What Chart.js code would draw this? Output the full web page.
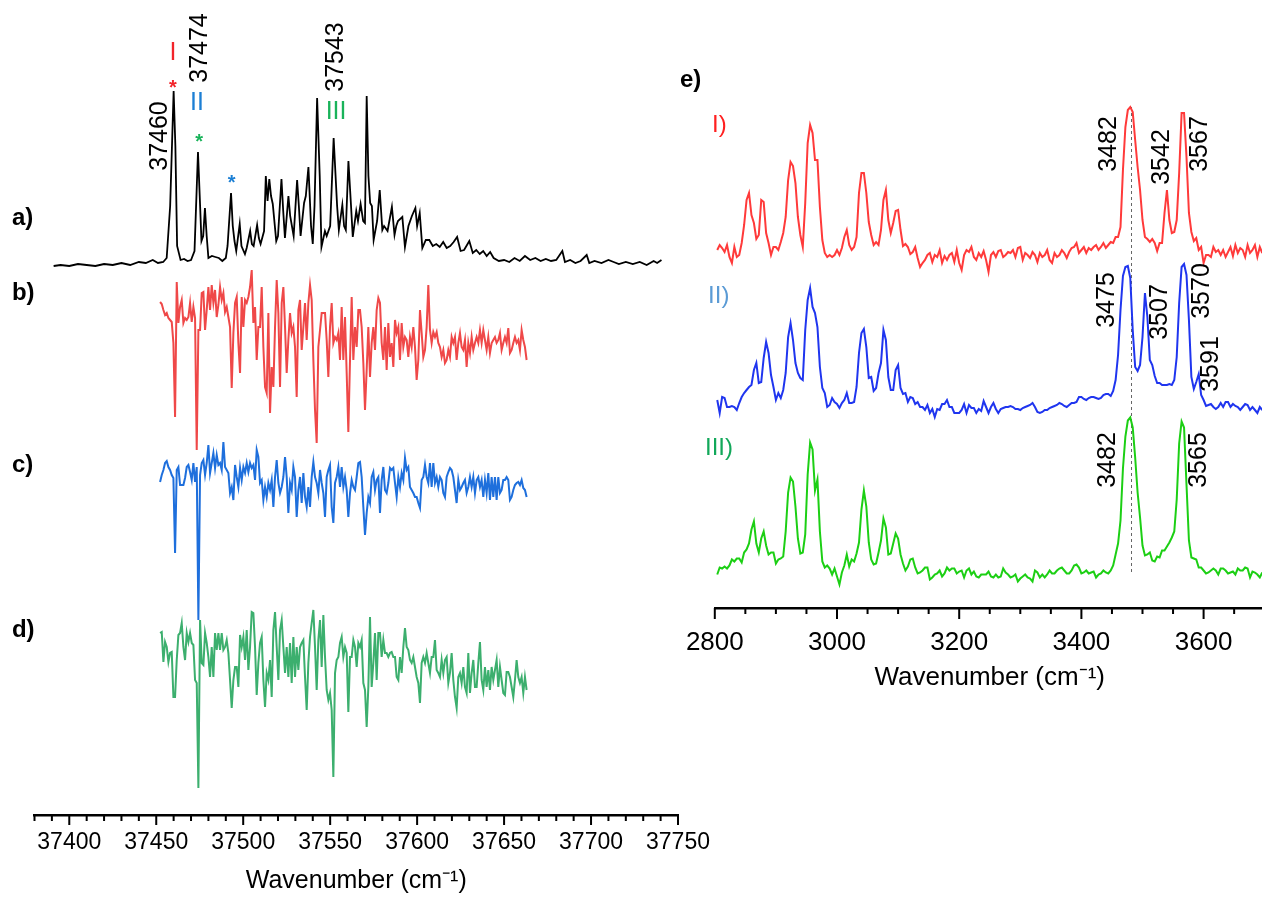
<!DOCTYPE html>
<html>
<head>
<meta charset="utf-8">
<script src="https://cdn.jsdelivr.net/npm/chart.js@4.4.1/dist/chart.umd.min.js"></script>
<style>
html, body { margin: 0; padding: 0; background: #fff; overflow: hidden; width: 1262px; height: 897px; }
#uvChart { position: absolute; left: 0; top: 0; }
#irChart { position: absolute; left: 660px; top: 0; }
</style>
</head>
<body>
<canvas id="uvChart" width="720" height="900"></canvas>
<canvas id="irChart" width="640" height="697"></canvas>
<script>
// a) electronic spectrum (black)
const uvWavenumber = [37391, 37395, 37400, 37405, 37410, 37415, 37420, 37425, 37430, 37435, 37440, 37444, 37448, 37451, 37454, 37456, 37458, 37460, 37461, 37462,
  37464, 37466, 37468, 37470, 37472, 37474, 37475, 37476, 37477, 37478, 37479, 37480, 37482, 37484, 37486, 37488, 37490, 37491, 37493, 37494,
  37495, 37496, 37498, 37499, 37501, 37502, 37504, 37505, 37506, 37508, 37509, 37510, 37512, 37513, 37514, 37515, 37516, 37517, 37519, 37520,
  37522, 37523, 37524, 37526, 37527, 37529, 37531, 37532, 37533, 37535, 37536, 37537.5, 37539, 37540, 37541, 37542.5, 37544, 37545, 37547, 37548,
  37550, 37552, 37554, 37555, 37557, 37558, 37559, 37560.5, 37562, 37563, 37565, 37566, 37567.5, 37569, 37570, 37571, 37572, 37573, 37574, 37575,
  37577, 37578.5, 37580, 37581, 37583, 37585.5, 37587, 37588, 37589, 37591.5, 37593, 37595, 37597, 37599, 37600, 37601.5, 37603, 37605, 37607, 37609,
  37611, 37613, 37615, 37617, 37619, 37621, 37623, 37625, 37627, 37630, 37632, 37634, 37636, 37638, 37640, 37642, 37644, 37647, 37650, 37653,
  37656, 37659, 37662, 37665, 37668, 37671, 37674, 37677, 37680, 37683.5, 37685, 37688, 37691, 37694, 37697.5, 37699, 37702, 37706, 37710, 37713,
  37716, 37720, 37724, 37728, 37732, 37736, 37738, 37740.5];
const uvSignal = [0, 1, 0, 2, 1, 0, 2, 1, 3, 1, 4, 3, 6, 3, 4, 8, 60, 175, 120, 20,
  6, 7, 5, 6, 15, 114, 70, 25, 30, 58, 30, 8, 10, 9, 8, 5, 8, 20, 73, 40,
  25, 15, 42, 20, 12, 18, 35, 22, 20, 41, 28, 22, 35, 90, 65, 87, 70, 62, 25, 30,
  87, 55, 28, 70, 50, 30, 86, 60, 30, 63, 70, 99, 40, 22, 60, 168, 90, 19, 35, 30,
  40, 128, 60, 36, 61, 40, 36, 105, 60, 29, 55, 45, 62, 45, 43, 170, 90, 63, 60, 26,
  45, 76, 36, 40, 35, 59, 31, 40, 45, 49, 19, 40, 50, 58, 40, 53, 18, 26, 26, 20,
  22, 19, 24, 18, 20, 24, 29, 15, 16, 25, 13, 16, 12, 15, 10, 14, 8, 5, 6, 4,
  8, 5, 10, 6, 8, 5, 7, 5, 6, 15, 4, 6, 3, 5, 11, 3, 5, 3, 6, 4,
  2, 4, 2, 4, 1, 5, 3, 6];

// b)-d) hole-burning traces, one scan grid
const holeStart = 37452.2;
const holeStep = 0.958;
const holeRed = [28, 26, 20, 15, 17, 12, 10, 8, -13, -87,
  48, 7, 23, 30, 7, 12, 10, 13, 27, 8,
  23, 12, -120, 0, 0, 37, 38, 0, 20, 43,
  20, 45, 27, 40, 13, 25, 43, 30, 37, 18,
  23, 13, 3, -58, -3, 27, 33, -13, -43, 33,
  3, 30, 27, 33, 43, 60, 7, 23, -30, 3,
  3, 43, -17, -57, -63, 17, -83, -37, -57, 3,
  50, 17, -57, 27, 43, 3, -43, -10, 17, -3,
  3, -17, -67, 20, 30, -20, 3, 27, -10, 27,
  45, 30, -30, -80, -113, -17, 0, 17, 17, 17,
  -10, -47, 3, 27, -13, -7, -10, -3, -30, 23,
  -30, 13, -43, -102, -30, 33, -30, 3, -17, 20,
  20, 3, -33, -80, -40, 3, -47, -13, 3, -20,
  20, 32, 27, -13, -30, 3, -40, 7, -27, -13,
  -37, 10, -3, 3, -30, 7, -17, -7, -10, -27,
  -7, -17, 3, -17, -50, -30, 20, -3, -27, -20,
  3, 45, 0, -13, -2, -7, -2, -13, -17, -27,
  -20, -33, -30, -20, -27, -7, -13, -7, -30, -13,
  -3, -17, -20, -10, -37, -13, -23, -7, -20, -13,
  -7, -13, 0, -13, 0, -10, -20, -7, -23, -13,
  -10, -7, -13, -10, -3, -20, -13, -7, -13, 2,
  -23, -20, -13, -7, -13, -10, -20, 0, -10, -17,
  -30];
const holeBlue = [-2, 5, 10, 17, 19, 13, 10, 5, 2, -73,
  10, 13, -5, -5, -5, 2, 13, 15, 8, 0,
  17, -2, 13, -140, 5, 17, 20, 5, 17, 35,
  7, 17, 27, 12, 25, 15, 17, 10, 38, 13,
  10, 7, -13, -7, -20, 15, 3, -7, 12, 0,
  13, 7, 17, 8, 17, 12, 15, 0, 30, 23,
  -3, 0, -20, -7, -17, -3, -10, 0, -27, 3,
  20, -3, -13, -7, 3, 23, 3, -33, -3, -10,
  13, 3, -37, -10, 3, -23, 7, -17, -27, -7,
  -27, 3, 18, 3, -3, -13, 10, -3, -13, -37,
  3, 10, 15, -27, -43, -3, 3, 13, -7, 13,
  -7, 3, -10, -37, -13, 0, -7, -10, 3, 17,
  18, 3, -27, -55, -33, -17, -23, 3, 8, -10,
  0, 3, -33, 0, 13, -10, -13, -3, 12, 10,
  12, -3, -17, 3, -7, 7, 0, 22, 10, 13,
  -7, -10, -13, -17, -17, -23, -28, 0, 3, 15,
  3, -3, 17, -7, 17, -3, 3, -7, 3, 0,
  -13, -17, 3, 8, 12, 10, 3, -10, -23, 0,
  -10, -7, -3, 0, -13, -7, 3, -7, 3, -13,
  0, 3, -7, 0, -17, 0, -13, 7, -20, 3,
  -17, 3, -20, 3, -13, -10, 0, 0, 3, 0,
  -20, -17, -10, -5, -3, -2, -5, 0, -8, -10,
  -17];
const holeGreen = [27, 28, -2, 18, 13, -2, 7, 8, -37, -37,
  0, 25, 27, 37, 13, 0, 27, 18, 27, 17,
  15, -20, -23, -128, 40, -3, -5, 27, 17, 3,
  -17, 13, -17, 27, 10, 27, 10, 27, 10, 13,
  20, 7, -20, -48, -20, -7, -7, -27, 25, 13,
  23, 0, 30, -10, 13, 48, 47, 13, -35, -3,
  17, 23, -20, -47, -13, -20, 0, -37, 30, 48,
  13, -20, 30, 40, 13, -13, 13, -17, 17, -23,
  23, -17, 13, -10, 13, 17, 20, -17, -50, -3,
  23, 37, 50, 13, -30, 20, 40, -7, 45, 3,
  -30, -40, -33, -50, -117, -13, 0, 3, 17, 23,
  3, 13, 7, -52, 3, 3, 20, 13, -7, 17,
  13, 20, -23, -30, -67, -27, 43, -27, -3, 27,
  -20, 27, 27, 3, 20, 7, 7, 3, 7, 8,
  3, 3, -17, -20, 3, -13, 13, 32, 13, 10,
  0, -3, 3, -7, -17, -23, -43, -3, 3, -3,
  7, -3, -13, 3, 3, 20, -10, -13, -17, 0,
  -13, 0, 3, -23, -13, 7, -20, -37, -48, -17,
  -13, -23, -7, -27, -33, 7, -33, -13, 0, -27,
  -27, -3, 18, -20, -30, -7, -27, -10, -30, -7,
  -20, -10, 0, -27, -7, -20, -33, -35, -12, -12,
  -17, -27, -37, -20, 0, -17, -23, -17, -33, -17,
  -30];

// e) IR spectra of conformers I, II, III
const irStart = 2804;
const irStep = 4;
const irConformerI = [5, 10, 7, 3, 10, -2, -8, 8, -2, 0,
  12, 30, 55, 62, 40, 32, 16, 20, 55, 53,
  22, 12, 0, 8, 8, 5, 13, 22, 38, 75,
  93, 89, 72, 38, 20, 8, 52, 112, 130, 122,
  95, 95, 48, 15, 2, -2, 0, -2, 0, 5,
  0, 7, 18, 25, 10, 5, 8, 18, 62, 82,
  82, 62, 33, 20, 10, 13, 10, 25, 55, 65,
  35, 22, 32, 44, 45, 25, 9, 11, 8, 1,
  3, 8, -3, -12, -8, -5, 0, 2, -7, 0,
  -2, 5, -8, -1, -5, 0, 2, -7, 5, -8,
  -15, 0, 5, 3, 8, -2, -5, 2, -2, 4,
  -5, -17, 0, 3, -2, 4, 5, -2, 0, 3,
  2, 5, -2, 7, 8, -5, 2, 0, -3, 3,
  0, -7, 2, -2, 0, 5, -5, -8, 2, -2,
  0, 5, 2, -3, 3, 7, 8, 12, 2, 5,
  8, 2, 7, 5, 8, 10, 5, 8, 12, 7,
  10, 13, 12, 18, 18, 28, 85, 128, 145, 148,
  143, 115, 88, 65, 35, 18, 16, 13, 16, 12,
  4, 12, 12, 42, 65, 35, 22, 23, 35, 82,
  142, 142, 98, 42, 23, 14, 17, 5, 8, -8,
  0, 0, -2, 8, 3, 5, 0, 5, -2, 3,
  8, -1, 10, 2, 7, 5, -2, 10, 2, 5,
  10, -2, 8, 2];
const irConformerII = [5, -8, 8, 7, -2, -2, -1, -2, -5, 2,
  8, 12, 15, 18, 20, 35, 42, 22, 23, 47,
  63, 52, 30, 18, 5, 12, 7, 15, 32, 68,
  82, 65, 42, 32, 27, 25, 75, 105, 117, 98,
  92, 78, 38, 17, 12, -2, 0, 7, 3, 1,
  -3, 2, 5, 12, 2, 2, 3, 18, 52, 72,
  76, 58, 27, 28, 14, 17, 32, 42, 75, 65,
  28, 15, 15, 35, 40, 17, 11, 12, 3, 8,
  7, 1, 3, -2, -2, -5, 0, -8, -4, -12,
  -4, -5, 1, 1, 5, -2, -2, -8, -8, -8,
  -5, 1, -8, 0, -3, -3, -8, -4, -6, 4,
  -2, -8, -2, 2, -4, -8, -4, -3, -2, -2,
  -1, -2, -4, -4, -5, -3, -2, -1, 0, 2,
  -2, -7, -8, -7, -5, -5, -3, -2, -1, 0,
  2, 1, -1, -2, 0, 2, 2, 3, 8, 8,
  6, 5, 7, 8, 8, 7, 6, 7, 10, 11,
  11, 9, 14, 25, 50, 95, 129, 138, 139, 127,
  75, 38, 34, 40, 68, 112, 88, 45, 40, 29,
  22, 22, 20, 20, 20, 21, 20, 25, 48, 102,
  138, 141, 130, 85, 28, 16, 23, 31, 10, 5,
  -1, 0, 1, -2, -4, -2, 2, -2, 3, 3,
  -2, 1, -1, -2, -5, -2, 1, 0, -5, -2,
  -5, -8, -2, -5];
const irConformerIII = [-2, 5, 4, 6, 4, 7, 13, 11, 14, 14,
  10, 20, 23, 29, 43, 51, 29, 20, 34, 41,
  27, 18, 20, 20, 9, 13, 14, 16, 41, 80,
  95, 91, 66, 34, 19, 20, 38, 98, 130, 123,
  82, 93, 41, 11, 5, 7, 4, -2, 4, -4,
  -12, 0, 7, 18, 6, 13, 11, 19, 30, 63,
  82, 66, 30, 13, 8, 9, 20, 32, 54, 45,
  18, 19, 29, 39, 34, 18, 9, 2, 6, 13,
  14, 5, -1, 0, 2, 5, 5, -7, -5, -2,
  -1, 2, -4, -1, 5, 2, 4, 4, -1, 1,
  2, -5, 2, 4, -2, 1, -4, -5, -2, -2,
  -2, 1, -4, -5, -2, -5, -4, 4, 0, -2,
  -5, -4, -2, -9, -6, -4, -2, -5, -6, -9,
  2, 0, -5, -2, -5, -2, 2, -1, -1, 2,
  4, 5, 2, -1, -1, 2, 7, 8, 5, -1,
  0, 2, -1, 0, 1, -5, -2, -1, 2, 0,
  -1, 2, 7, 18, 29, 52, 104, 136, 152, 155,
  145, 115, 80, 55, 27, 17, 18, 20, 12, 11,
  16, 15, 22, 22, 26, 30, 35, 41, 73, 129,
  151, 145, 88, 32, 15, 14, 13, 5, 5, 2,
  -1, 0, 2, 4, 2, -2, 4, 4, 2, -1,
  0, 1, -2, 4, 2, 2, 5, 4, -5, 1,
  0, -2, -5, 0];

// vertical stacking of the traces (scale units)
const uvOffsets = { a: 549, b: 485, c: 335, d: 155 };
const irOffsets = { I: 353, II: 203, III: 35.5 };

const FONT = 'Arial, "Liberation Sans", Helvetica, sans-serif';
Chart.defaults.font.family = FONT;
Chart.defaults.color = '#000';

const holeWn = holeRed.map((_, i) => holeStart + i * holeStep);
const irWn = irConformerI.map((_, i) => irStart + i * irStep);

function trace(xs, ys, base) {
    return ys.map((v, i) => ({ x: xs[i], y: base + v }));
}

function line(data, color, width) {
    return { data, borderColor: color, borderWidth: width, pointRadius: 0, tension: 0, fill: false };
}

// minor/major tick marks below the axis line
const axisTicks = {
    id: 'axisTicks',
    afterDraw(chart, args, opts) {
        const s = chart.scales.x;
        const ctx = chart.ctx;
        ctx.save();
        ctx.strokeStyle = '#000';
        ctx.lineWidth = 2;
        ctx.beginPath();
        s.ticks.forEach(t => {
            const px = s.getPixelForValue(t.value);
            const len = t.value % opts.major === 0 ? opts.majorLen : opts.minorLen;
            ctx.moveTo(px, s.top);
            ctx.lineTo(px, s.top + len);
        });
        ctx.stroke();
        ctx.restore();
    }
};

// text labels, asterisks and the dashed guide line
const notes = {
    id: 'notes',
    beforeDatasetsDraw(chart, args, opts) {
        const ctx = chart.ctx, xs = chart.scales.x, ys = chart.scales.y;
        (opts.guides || []).forEach(g => {
            const px = xs.getPixelForValue(g.x);
            ctx.save();
            ctx.strokeStyle = '#666';
            ctx.lineWidth = 1;
            ctx.setLineDash([3, 3]);
            ctx.beginPath();
            ctx.moveTo(px, ys.getPixelForValue(g.from));
            ctx.lineTo(px, ys.getPixelForValue(g.to));
            ctx.stroke();
            ctx.restore();
        });
    },
    afterDatasetsDraw(chart, args, opts) {
        const ctx = chart.ctx, xs = chart.scales.x, ys = chart.scales.y;
        (opts.labels || []).forEach(l => {
            ctx.save();
            ctx.translate(xs.getPixelForValue(l.x), ys.getPixelForValue(l.y));
            if (l.rotate) ctx.rotate(-Math.PI / 2);
            ctx.font = l.font + ' ' + FONT;
            ctx.fillStyle = l.color || '#000';
            ctx.textAlign = l.align || 'center';
            ctx.textBaseline = 'middle';
            ctx.fillText(l.text, 0, 0);
            ctx.restore();
        });
    }
};

const uvLabels = [
    { text: 'a)', x: 37367, y: 597, align: 'left', font: 'bold 24px' },
    { text: 'b)', x: 37367, y: 522, align: 'left', font: 'bold 24px' },
    { text: 'c)', x: 37367, y: 350, align: 'left', font: 'bold 24px' },
    { text: 'd)', x: 37367, y: 185, align: 'left', font: 'bold 24px' },
    { text: '37460', x: 37452, y: 679, rotate: true, font: '25px' },
    { text: '37474', x: 37475.2, y: 767, rotate: true, font: '25px' },
    { text: '37543', x: 37553.4, y: 758, rotate: true, font: '25px' },
    { text: 'I', x: 37459.6, y: 762, color: '#f2242a', font: '25px' },
    { text: 'II', x: 37473.4, y: 712, color: '#1c7fd4', font: '25px' },
    { text: 'III', x: 37553.4, y: 703, color: '#19b35a', font: '25px' },
    { text: '*', x: 37459.6, y: 727, color: '#f2242a', font: 'bold 20px' },
    { text: '*', x: 37474.6, y: 673, color: '#19b35a', font: 'bold 20px' },
    { text: '*', x: 37493.4, y: 632, color: '#1c7fd4', font: 'bold 20px' }
];

const irLabels = [
    { text: 'e)', x: 2743, y: 528, align: 'left', font: 'bold 24px' },
    { text: 'I)', x: 2795.4, y: 483, align: 'left', color: '#ff2020', font: '24px' },
    { text: 'II)', x: 2789, y: 312, align: 'left', color: '#5b9bd5', font: '24px' },
    { text: 'III)', x: 2784, y: 160, align: 'left', color: '#12a85a', font: '24px' },
    { text: '3482', x: 3445.2, y: 464, rotate: true, font: '25px' },
    { text: '3542', x: 3532.7, y: 451, rotate: true, font: '25px' },
    { text: '3567', x: 3594.9, y: 464, rotate: true, font: '25px' },
    { text: '3475', x: 3441.9, y: 308, rotate: true, font: '25px' },
    { text: '3507', x: 3528.5, y: 296, rotate: true, font: '25px' },
    { text: '3570', x: 3598.2, y: 317, rotate: true, font: '25px' },
    { text: '3591', x: 3612.9, y: 244, rotate: true, font: '25px' },
    { text: '3482', x: 3443.7, y: 148, rotate: true, font: '25px' },
    { text: '3565', x: 3592.6, y: 148, rotate: true, font: '25px' }
];

function xAxis(min, max, minor, major, height, fontSize, titleSize, pad, tickLen) {
    return {
        type: 'linear', min, max,
        afterFit: s => { s.height = height; },
        grid: { display: true, drawOnChartArea: false, drawTicks: true, tickLength: tickLen, tickColor: 'rgba(0,0,0,0)' },
        border: { display: true, color: '#000', width: 2.5 },
        ticks: {
            stepSize: minor, autoSkip: false, maxRotation: 0, minRotation: 0, padding: pad,
            color: '#000', font: { size: fontSize },
            callback: v => (v % major === 0 ? String(v) : '')
        },
        title: { display: true, text: 'Wavenumber (cm⁻¹)', color: '#000', font: { size: titleSize }, padding: { top: 4, bottom: 4 } }
    };
}

new Chart(document.getElementById('uvChart'), {
    type: 'line',
    data: {
        datasets: [
            line(trace(uvWavenumber, uvSignal, uvOffsets.a), '#000000', 1.8),
            line(trace(holeWn, holeRed, uvOffsets.b), '#ef4848', 2),
            line(trace(holeWn, holeBlue, uvOffsets.c), '#1e6fdc', 2),
            line(trace(holeWn, holeGreen, uvOffsets.d), '#3caf6e', 2)
        ]
    },
    options: {
        responsive: false,
        animation: false,
        layout: { padding: { left: 34.5, right: 42, top: 0, bottom: 0 } },
        scales: {
            x: xAxis(37380, 37750, 10, 50, 85, 23, 25, 4, 10),
            y: { display: false, min: 0, max: 815 }
        },
        plugins: {
            legend: { display: false },
            tooltip: { enabled: false },
            axisTicks: { major: 50, majorLen: 10, minorLen: 6 },
            notes: { labels: uvLabels }
        }
    },
    plugins: [axisTicks, notes]
});

new Chart(document.getElementById('irChart'), {
    type: 'line',
    data: {
        datasets: [
            line(trace(irWn, irConformerI, irOffsets.I), '#ff3a3a', 2),
            line(trace(irWn, irConformerII, irOffsets.II), '#1f35ef', 2),
            line(trace(irWn, irConformerIII, irOffsets.III), '#1ccf14', 2)
        ]
    },
    options: {
        responsive: false,
        animation: false,
        layout: { padding: { left: 54.8, right: 35.3, top: 0, bottom: 0 } },
        scales: {
            x: xAxis(2800, 3700, 50, 200, 89, 26, 26, 8, 11),
            y: { display: false, min: 0, max: 608 }
        },
        plugins: {
            legend: { display: false },
            tooltip: { enabled: false },
            axisTicks: { major: 200, majorLen: 11, minorLen: 6 },
            notes: { labels: irLabels, guides: [{ x: 3482, from: 501, to: 33 }] }
        }
    },
    plugins: [axisTicks, notes]
});
</script>
</body>
</html>
